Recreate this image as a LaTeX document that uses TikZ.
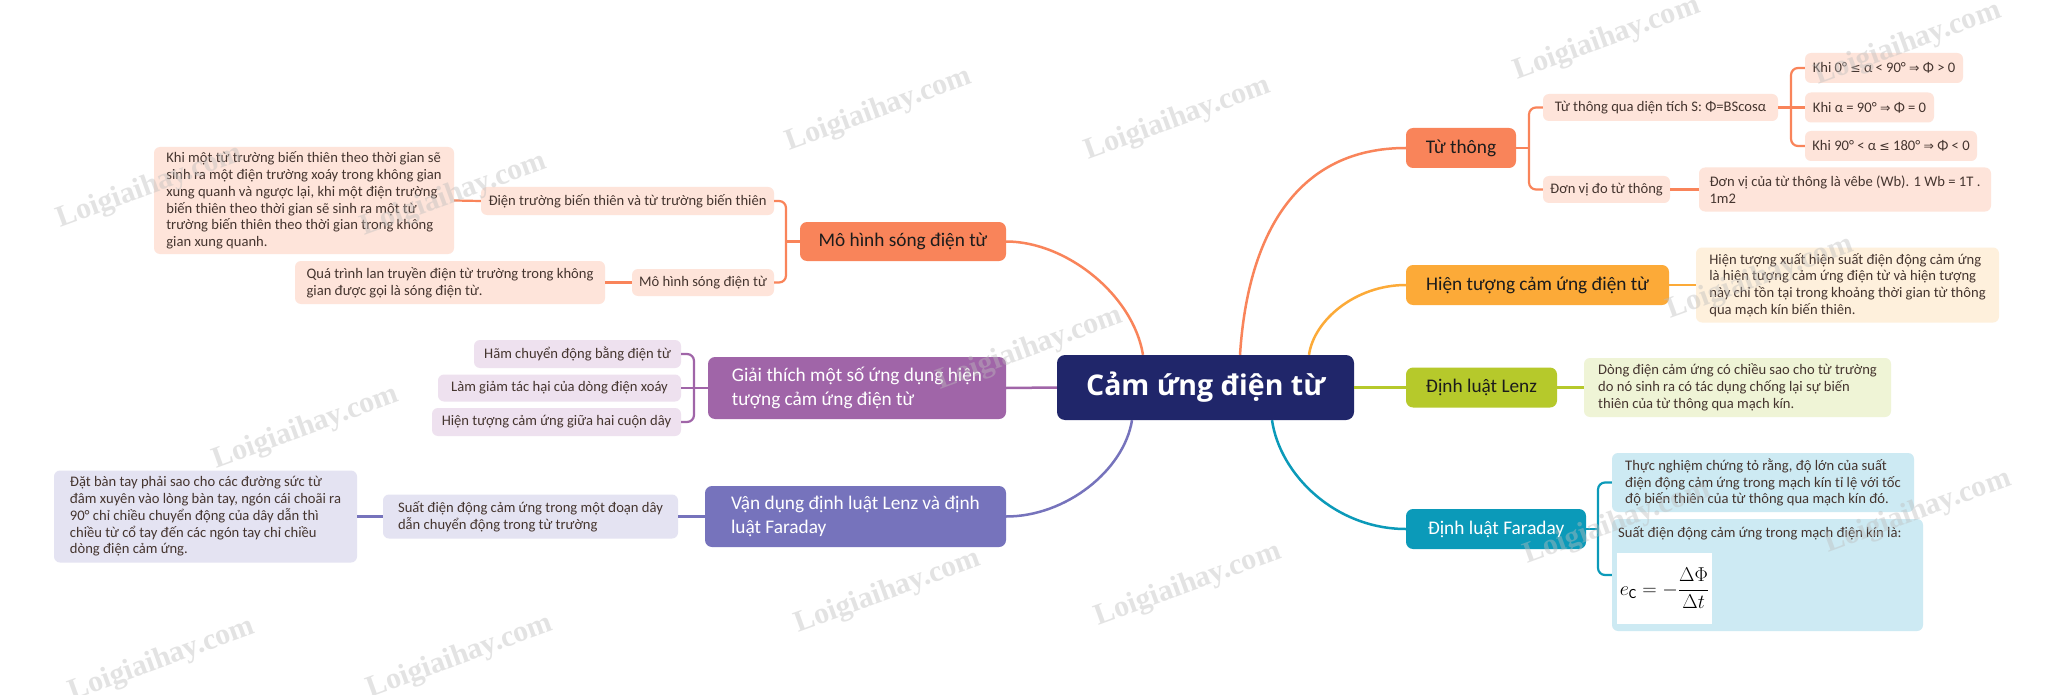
\documentclass[tikz,border=0pt]{standalone}
\usepackage{fix-cm}
\usepackage{amsmath}
\usepackage{fontspec}
\setmainfont{Carlito}
\newfontfamily\titlefont{Open Sans}
\newfontfamily\wmfont{Liberation Serif}
\newfontfamily\glyphfont{DejaVu Sans}[Scale=0.85]
\definecolor{cNavy}{HTML}{20266A}
\definecolor{cCoral}{HTML}{F9845A}
\definecolor{cCoralSoft}{HTML}{FEE4DA}
\definecolor{cAmber}{HTML}{FCAA38}
\definecolor{cAmberSoft}{HTML}{FEF0DC}
\definecolor{cLime}{HTML}{B6C92B}
\definecolor{cLimeSoft}{HTML}{EFF4D6}
\definecolor{cTeal}{HTML}{0B9AB9}
\definecolor{cTealSoft}{HTML}{CDEAF3}
\definecolor{cPlum}{HTML}{A065A8}
\definecolor{cPlumSoft}{HTML}{EEE1EF}
\definecolor{cIris}{HTML}{7673BC}
\definecolor{cIrisSoft}{HTML}{E4E3F2}
\definecolor{cInk}{HTML}{1C1C1C}
\definecolor{cSubInk}{HTML}{45352F}
\definecolor{cWm}{HTML}{BDBDBD}
\newcommand{\gl}[1]{{\glyphfont #1}}
\begin{document}
\begin{tikzpicture}[x=1pt,y=-1pt,
  sz/.style 2 args={minimum width=#1pt,minimum height=#2pt},
  main/.style={rounded corners=7pt,inner xsep=17pt,inner ysep=2pt,align=left,text=cInk,font=\fontsize{19.3}{24}\selectfont},
  sub/.style={rounded corners=6pt,inner xsep=6pt,inner ysep=2pt,align=left,text=cSubInk,font=\fontsize{14.6}{16.8}\selectfont},
  link/.style={line width=2.5pt},
  twig/.style={line width=2.2pt,rounded corners=7pt},
  wm/.style={rotate=20,text=cWm,opacity=0.42,font=\wmfont\bfseries\fontsize{30}{30}\selectfont}]
\fill[white] (0,0) rectangle (2052,695);
\useasboundingbox (0,0) rectangle (2052,695);

\node[fill=cNavy,text=white,rounded corners=8pt,sz={297}{65},font=\titlefont\bfseries\fontsize{28.5}{32}\selectfont] (core) at (1205.5,387.5) {Cảm ứng điện từ};

\node[main,fill=cCoral,sz={110}{40}] (tuthong) at (1461,148) {Từ thông};
\node[sub,fill=cCoralSoft,sz={235}{27}] (ttqua) at (1660.5,107.5) {Từ thông qua diện tích S: Φ=BScosα};
\node[sub,fill=cCoralSoft,sz={158}{30}] (khia) at (1884,68) {Khi 0° \gl{≤} α < 90° \gl{⇒} Φ > 0};
\node[sub,fill=cCoralSoft,sz={129}{30}] (khib) at (1869.5,107.5) {Khi α = 90° \gl{⇒} Φ = 0};
\node[sub,fill=cCoralSoft,sz={172}{30}] (khic) at (1891,146) {Khi 90° < α \gl{≤} 180° \gl{⇒} Φ < 0};
\node[sub,fill=cCoralSoft,sz={127}{27}] (dvdo) at (1606.5,189.5) {Đơn vị đo từ thông};
\node[sub,fill=cCoralSoft,sz={292}{44}] (dvcua) at (1845,189.5) {Đơn vị của từ thông là vêbe (Wb). 1 Wb = 1T .\\1m2};

\node[main,fill=cAmber,sz={263}{40}] (hiengt) at (1537.5,285) {Hiện tượng cảm ứng điện từ};
\node[sub,fill=cAmberSoft,sz={303}{75}] (hiendet) at (1847.5,285) {Hiện tượng xuất hiện suất điện động cảm ứng\\là hiện tượng cảm ứng điện từ và hiện tượng\\này chỉ tồn tại trong khoảng thời gian từ thông\\qua mạch kín biến thiên.};

\node[main,fill=cLime,sz={151}{40}] (lenz) at (1481.5,387.5) {Định luật Lenz};
\node[sub,fill=cLimeSoft,sz={307}{59}] (lenzdet) at (1737.5,387.5) {Dòng điện cảm ứng có chiều sao cho từ trường\\do nó sinh ra có tác dụng chống lại sự biến\\thiên của từ thông qua mạch kín.};

\node[main,fill=cTeal,text=white,sz={180}{40}] (faraday) at (1496,529) {Định luật Faraday};
\node[sub,fill=cTealSoft,sz={302}{59}] (fardeta) at (1763,482.5) {Thực nghiệm chứng tỏ rằng, độ lớn của suất\\điện động cảm ứng trong mạch kín tỉ lệ với tốc\\độ biến thiên của từ thông qua mạch kín đó.};
\node[sub,fill=cTealSoft,sz={311}{112}] (fardetb) at (1767.5,575) {};
\node[sub,anchor=west] (farline) at (1612,533) {Suất điện động cảm ứng trong mạch điện kín là:};
\node[fill=white,inner sep=1pt,sz={95}{71},font=\fontsize{20}{24}\selectfont] (fml) at (1664.5,588.5) {$e_{\mathrm{C}}=-\dfrac{\Delta\Phi}{\Delta t}$};

\node[main,fill=cCoral,sz={206}{39}] (mohinh) at (903,241.5) {Mô hình sóng điện từ};
\node[sub,fill=cCoralSoft,sz={293}{28}] (dtruong) at (627.5,201) {Điện trường biến thiên và từ trường biến thiên};
\node[sub,fill=cCoralSoft,sz={300}{107}] (khimot) at (304,200.5) {Khi một từ trường biến thiên theo thời gian sẽ\\sinh ra một điện trường xoáy trong không gian\\xung quanh và ngược lại, khi một điện trường\\biến thiên theo thời gian sẽ sinh ra một từ\\trường biến thiên theo thời gian trong không\\gian xung quanh.};
\node[sub,fill=cCoralSoft,sz={142}{27}] (mhsub) at (703,282.5) {Mô hình sóng điện từ};
\node[sub,fill=cCoralSoft,sz={310}{43}] (quatr) at (450,282.5) {Quá trình lan truyền điện từ trường trong không\\gian được gọi là sóng điện từ.};

\node[main,fill=cPlum,text=white,sz={298}{62}] (giaith) at (857,388) {Giải thích một số ứng dụng hiện\\tượng cảm ứng điện từ};
\node[sub,fill=cPlumSoft,sz={207}{28}] (ham) at (577.5,354) {Hãm chuyển động bằng điện từ};
\node[sub,fill=cPlumSoft,sz={243}{27}] (lamgiam) at (559.5,388) {Làm giảm tác hại của dòng điện xoáy};
\node[sub,fill=cPlumSoft,sz={249}{28}] (cuonday) at (556.5,422) {Hiện tượng cảm ứng giữa hai cuộn dây};

\node[main,fill=cIris,text=white,sz={301}{61}] (vandung) at (855.5,516.5) {Vận dụng định luật Lenz và định\\luật Faraday};
\node[sub,fill=cIrisSoft,sz={295}{44}] (suatdd) at (530.5,516.5) {Suất điện động cảm ứng trong một đoạn dây\\dẫn chuyển động trong từ trường};
\node[sub,fill=cIrisSoft,sz={303}{92}] (datban) at (205.5,516.5) {Đặt bàn tay phải sao cho các đường sức từ\\đâm xuyên vào lòng bàn tay, ngón cái choãi ra\\90° chỉ chiều chuyển động của dây dẫn thì\\chiều từ cổ tay đến các ngón tay chỉ chiều\\dòng điện cảm ứng.};

\draw[link,cCoral] ([xshift=34.5pt]core.north) .. controls +(8,-125) and +(-106,0) .. (tuthong.west);
\draw[link,cAmber] ([xshift=103.5pt]core.north) .. controls +(5,-35) and +(-50,0) .. (hiengt.west);
\draw[link,cLime] (core.east) -- (lenz.west);
\draw[link,cTeal] ([xshift=66.5pt]core.south) .. controls +(8,55) and +(-70,0) .. (faraday.west);
\draw[link,cCoral] ([xshift=-62.5pt]core.north) .. controls +(-10,-60) and +(60,0) .. (mohinh.east);
\draw[link,cPlum] (core.west) -- (giaith.east);
\draw[link,cIris] ([xshift=-73.5pt]core.south) .. controls +(-8,50) and +(60,0) .. (vandung.east);

\coordinate (jt) at (1529,148);
\coordinate (jk) at (1791,107.5);
\coordinate (jf) at (1598,529);
\coordinate (jm) at (786,241.5);
\coordinate (jg) at (694,388);
\draw[twig,cCoral] (tuthong.east) -- (jt);
\draw[twig,cCoral] (ttqua.west) -| (jt) |- (dvdo.west);
\draw[twig,cCoral] (ttqua.east) -- (khib.west);
\draw[twig,cCoral] (khia.west) -| (jk) |- (khic.west);
\draw[twig,cCoral] (dvdo.east) -- (dvcua.west);
\draw[twig,cAmber] (hiengt.east) -- (hiendet.west);
\draw[twig,cLime] (lenz.east) -- (lenzdet.west);
\draw[twig,cTeal] (faraday.east) -- (jf);
\draw[twig,cTeal] (fardeta.west) -| (jf) |- (fardetb.west);
\draw[twig,cCoral] (mohinh.west) -- (jm);
\draw[twig,cCoral] (dtruong.east) -| (jm) |- (mhsub.east);
\draw[twig,cCoral] (dtruong.west) -- (khimot.east);
\draw[twig,cCoral] (mhsub.west) -- (quatr.east);
\draw[twig,cPlum] (giaith.west) -- (lamgiam.east);
\draw[twig,cPlum] (ham.east) -| (jg) |- (cuonday.east);
\draw[twig,cIris] (vandung.west) -- (suatdd.east);
\draw[twig,cIris] (suatdd.west) -- (datban.east);

\foreach \wx/\wy in {879/110,150/187,454/195,306/428,1030/349,888/592,162/660,460/657,1178/119,1607/39,1908/44,1760/278,1188/585,1617/523,1918/512}
  \node[wm] at (\wx,\wy) {Loigiaihay.com};
\end{tikzpicture}
\end{document}
